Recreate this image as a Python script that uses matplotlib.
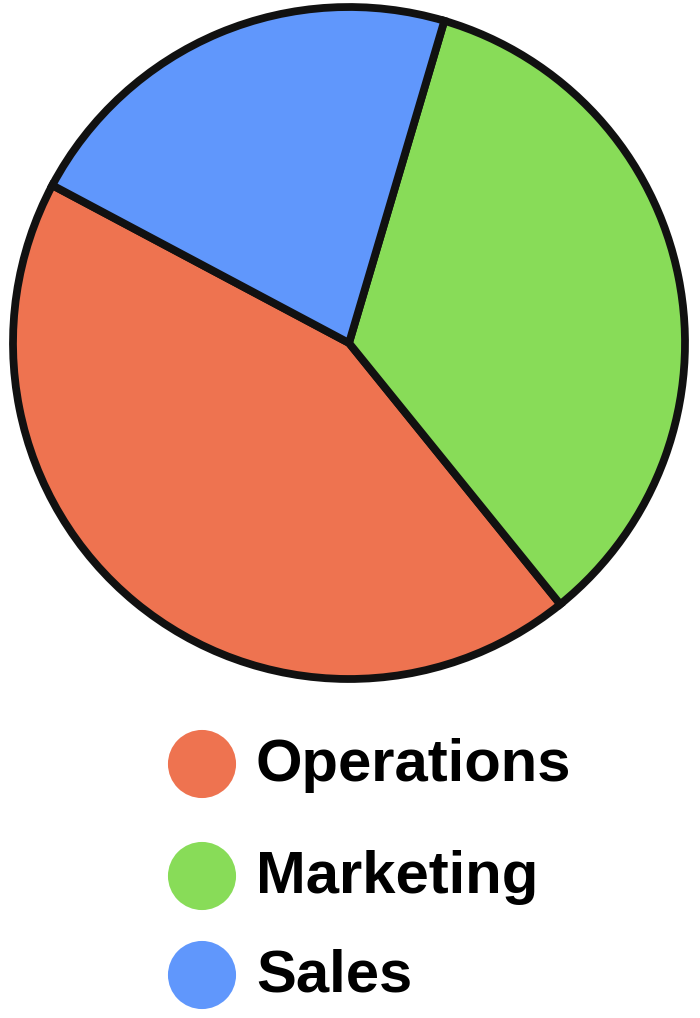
import matplotlib
matplotlib.use("Agg")
import matplotlib.pyplot as plt

# Data
labels = ["Operations", "Marketing", "Sales"]
shares = [43.6, 34.6, 21.8]
colors = ["#EE7350", "#88DC58", "#6097FC"]

fig = plt.figure(figsize=(7, 10.18), dpi=100)

# Pie
W, H = 700, 1018
cx, cy, r = 349, 343, 336
ax = fig.add_axes([(cx - r) / W, (H - cy - r) / H, 2 * r / W, 2 * r / H])
wedges, _ = ax.pie(shares, colors=colors, startangle=152, counterclock=True,
                   wedgeprops={"edgecolor": "#111111", "linewidth": 5.6, "clip_on": False})
ax.set_xlim(-1, 1)
ax.set_ylim(-1, 1)
ax.set_aspect("equal")
ax.axis("off")

# Legend (circles + labels)
leg = fig.add_axes([0, 0, 1, 1])
leg.set_xlim(0, W)
leg.set_ylim(H, 0)
leg.axis("off")
legend_y = [764, 876, 975]
for lab, col, y in zip(labels, colors, legend_y):
    leg.scatter([202], [y], s=68 ** 2 * 0.52, color=col, edgecolors="none")
    leg.text(256, y + 17, lab, fontsize=43, fontweight="bold", va="baseline", ha="left",
             color="black", family="Liberation Sans")

fig.savefig("out.png", dpi=100)
